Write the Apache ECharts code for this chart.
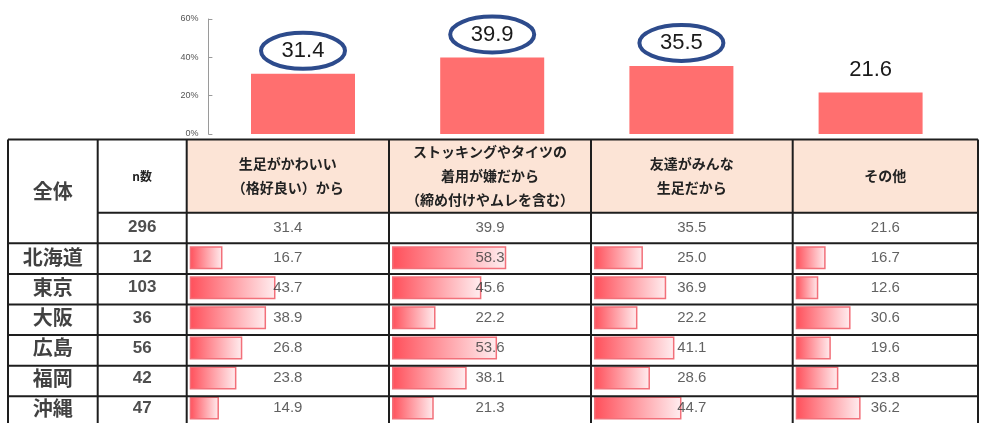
<!DOCTYPE html>
<html lang="ja">
  <head>
    <meta charset="UTF-8" />
    <title>生足の理由</title>
    <style>
      html, body { margin: 0; padding: 0; background: #fff; }
      #main { width: 981px; height: 423px; }
    </style>
  </head>
  <body>
    <div id="main"></div>
    <script src="https://cdn.jsdelivr.net/npm/echarts@6/dist/echarts.min.js"></script>
    <script>
      // データ
      var reasons = [
        "生足がかわいい\n（格好良い）から",
        "ストッキングやタイツの\n着用が嫌だから\n（締め付けやムレを含む）",
        "友達がみんな\n生足だから",
        "その他"
      ];
      var totalPct = [31.4, 39.9, 35.5, 21.6];
      var circled = [1, 1, 1, 0];
      var totalLabel = "全体";
      var totalN = 296;
      var regions = ["北海道", "東京", "大阪", "広島", "福岡", "沖縄"];
      var nCounts = [12, 103, 36, 56, 42, 47];
      var pctCute = [16.7, 43.7, 38.9, 26.8, 23.8, 14.9];
      var pctStocking = [58.3, 45.6, 22.2, 53.6, 38.1, 21.3];
      var pctFriends = [25.0, 36.9, 22.2, 41.1, 28.6, 44.7];
      var pctOther = [16.7, 12.6, 30.6, 19.6, 23.8, 36.2];
      var yTicks = [0, 20, 40, 60];

      var byRegion = [pctCute, pctStocking, pctFriends, pctOther];
      var rows = [totalLabel].concat(regions);

      // 表のレイアウト
      var colX = [8, 97.7, 186.7, 389, 591, 792.7, 978];
      var tableTop = 139.5;
      var headBottom = 212.7;
      var rowH = 30.6;
      var tableBottom = headBottom + rowH * rows.length;
      var jp = '"Noto Sans CJK JP", sans-serif';
      var lineColor = "#1e1e1e";

      var myChart = echarts.init(document.getElementById("main"), null, { renderer: "canvas" });

      var grids = [{ left: 208.4, top: 19, width: 756.8, height: 115 }];
      var xAxes = [{
        gridIndex: 0, type: "category", data: reasons,
        axisLine: { show: false }, axisTick: { show: false }, axisLabel: { show: false }
      }];
      var yAxes = [{
        gridIndex: 0, type: "value", min: yTicks[0], max: yTicks[yTicks.length - 1], interval: 20,
        axisLine: { show: true, lineStyle: { color: "#9a9a9a" } },
        axisTick: { show: true, inside: true, length: 4, lineStyle: { color: "#9a9a9a" } },
        axisLabel: { formatter: "{value}%", fontSize: 9, color: "#555", margin: 10, fontFamily: "Liberation Sans" },
        splitLine: { show: false }
      }];

      // 表の列ごとの grid（地域名・n数・4つの理由）
      for (var c = 0; c < 6; c++) {
        var pad = c >= 2 ? 3 : 0;
        grids.push({ left: colX[c] + pad, top: headBottom, width: colX[c + 1] - colX[c] - pad * 2, height: rowH * rows.length });
        xAxes.push({ gridIndex: c + 1, type: "value", min: 0, max: c >= 2 ? 100 : 1, show: false });
        yAxes.push({ gridIndex: c + 1, type: "category", data: rows, inverse: true, show: false });
      }

      var series = [
        {
          type: "bar", xAxisIndex: 0, yAxisIndex: 0, data: totalPct, barWidth: 104,
          itemStyle: { color: "#ff6f6f" },
          label: {
            show: true, position: "top", distance: 12, fontSize: 22, color: "#1a1a1a",
            fontFamily: "Liberation Sans", formatter: function (p) { return p.value.toFixed(1); }
          },
          silent: true
        },
        {
          type: "custom", xAxisIndex: 0, yAxisIndex: 0, z: 5,
          data: totalPct.map(function (v, i) { return [i, v, circled[i]]; }),
          encode: { x: 0, y: 1 },
          renderItem: function (params, api) {
            if (!api.value(2)) return null;
            var pt = api.coord([api.value(0), api.value(1)]);
            return {
              type: "ellipse",
              shape: { cx: pt[0], cy: pt[1] - 23, rx: 42, ry: 18 },
              style: { fill: null, stroke: "#2d4b8c", lineWidth: 4 }
            };
          }
        },
        // 地域名
        {
          type: "scatter", xAxisIndex: 1, yAxisIndex: 1, symbolSize: 0, silent: true,
          data: rows.map(function (r, i) {
            return {
              value: [0.5, i],
              label: i === 0 ? { offset: [0, -(headBottom - tableTop) / 2] } : {}
            };
          }),
          label: {
            show: true, position: "inside", fontSize: 20, fontWeight: "bold", color: "#111", fontFamily: jp,
            formatter: function (p) { return rows[p.value[1]]; }
          }
        },
        // n数
        {
          type: "scatter", xAxisIndex: 2, yAxisIndex: 2, symbolSize: 0, silent: true,
          data: [totalN].concat(nCounts).map(function (n, i) { return [0.5, i, n]; }),
          label: {
            show: true, position: "inside", fontSize: 17, fontWeight: "bold", color: "#222",
            fontFamily: "Liberation Sans", formatter: function (p) { return p.value[2]; }
          }
        }
      ];

      byRegion.forEach(function (vals, k) {
        var ax = k + 3;
        series.push({
          type: "bar", xAxisIndex: ax, yAxisIndex: ax, barWidth: 23, silent: true,
          data: ["-"].concat(vals),
          itemStyle: {
            color: new echarts.graphic.LinearGradient(0, 0, 1, 0, [
              { offset: 0, color: "#ff4f5a" },
              { offset: 1, color: "#ffeef0" }
            ]),
            borderColor: "#f2707a", borderWidth: 1.5
          }
        });
        series.push({
          type: "scatter", xAxisIndex: ax, yAxisIndex: ax, symbolSize: 0, silent: true, z: 6,
          data: [totalPct[k]].concat(vals).map(function (v, i) { return [50, i, v]; }),
          label: {
            show: true, position: "inside", fontSize: 15, color: "#3a3a3a", fontFamily: "Liberation Sans",
            formatter: function (p) { return p.value[2].toFixed(1); }
          }
        });
      });

      // 罫線と見出し
      var graphics = [{
        type: "rect", z: -1,
        shape: { x: colX[2], y: tableTop, width: colX[6] - colX[2], height: headBottom - tableTop },
        style: { fill: "#fce4d6" }
      }];
      function hLine(y, x1, x2) {
        graphics.push({ type: "line", z: 10, shape: { x1: x1, y1: y, x2: x2, y2: y }, style: { stroke: lineColor, lineWidth: 2 } });
      }
      hLine(tableTop, colX[0], colX[6]);
      hLine(headBottom, colX[1], colX[6]);
      for (var r = 1; r < rows.length; r++) hLine(headBottom + rowH * r, colX[0], colX[6]);
      colX.forEach(function (x) {
        graphics.push({ type: "line", z: 10, shape: { x1: x, y1: tableTop, x2: x, y2: tableBottom }, style: { stroke: lineColor, lineWidth: 2 } });
      });
      graphics.push({
        type: "text", z: 11, x: (colX[1] + colX[2]) / 2, y: (tableTop + headBottom) / 2,
        style: { text: "n数", fontSize: 12, fontWeight: "bold", fill: "#222", fontFamily: jp, align: "center", verticalAlign: "middle" }
      });
      reasons.forEach(function (t, k) {
        graphics.push({
          type: "text", z: 11, x: (colX[k + 2] + colX[k + 3]) / 2, y: (tableTop + headBottom) / 2,
          style: { text: t, fontSize: 14, fontWeight: "bold", fill: "#222", fontFamily: jp, align: "center", verticalAlign: "middle", lineHeight: 24 }
        });
      });

      var option = {
        animation: false,
        grid: grids,
        xAxis: xAxes,
        yAxis: yAxes,
        series: series,
        graphic: { elements: graphics }
      };

      myChart.setOption(option);
    </script>
  </body>
</html>
